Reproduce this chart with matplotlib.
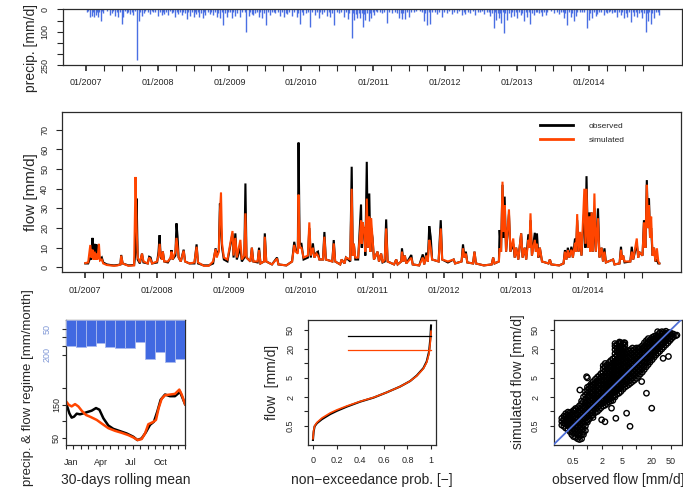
import numpy as np
import matplotlib
matplotlib.use("Agg")
import matplotlib.pyplot as plt
from matplotlib.ticker import FixedLocator, NullLocator

plt.rcParams['font.family'] = ['Liberation Sans', 'DejaVu Sans']

# ---------------- data ----------------
# daily precipitation events (decimal year, mm/d)
precip_t = [2007.013, 2007.06, 2007.083, 2007.115, 2007.143, 2007.176, 2007.213, 2007.246, 2007.338, 2007.36,
            2007.41, 2007.455, 2007.50, 2007.524, 2007.57, 2007.617, 2007.663, 2007.71, 2007.747, 2007.78,
            2007.81, 2007.895, 2007.94,
            2008.01, 2008.058, 2008.09, 2008.15, 2008.197, 2008.244, 2008.29, 2008.337, 2008.406, 2008.453,
            2008.50, 2008.536, 2008.582, 2008.63, 2008.66, 2008.73, 2008.777, 2008.824, 2008.87, 2008.917,
            2008.963,
            2009.033, 2009.08, 2009.15, 2009.233, 2009.265, 2009.31, 2009.33, 2009.358, 2009.405, 2009.45,
            2009.51, 2009.567, 2009.637, 2009.706, 2009.753, 2009.80, 2009.87, 2009.938, 2009.985,
            2010.03, 2010.124, 2010.194, 2010.24, 2010.286, 2010.356, 2010.403, 2010.458, 2010.519, 2010.589,
            2010.644, 2010.705, 2010.737, 2010.774, 2010.821, 2010.858, 2010.89, 2010.937, 2010.97,
            2011.016, 2011.053, 2011.123, 2011.192, 2011.262, 2011.355, 2011.40, 2011.447, 2011.494, 2011.564,
            2011.703, 2011.75, 2011.795, 2011.888, 2011.958,
            2012.028, 2012.097, 2012.167, 2012.237, 2012.283, 2012.353, 2012.422, 2012.492, 2012.538, 2012.631,
            2012.677, 2012.715, 2012.748, 2012.78, 2012.817, 2012.863, 2012.91, 2012.956,
            2013.003, 2013.05, 2013.096, 2013.142, 2013.188, 2013.235, 2013.305, 2013.35, 2013.397, 2013.513,
            2013.583, 2013.653, 2013.69, 2013.745, 2013.792, 2013.815, 2013.968,
            2014.00, 2014.047, 2014.094, 2014.117, 2014.21, 2014.256, 2014.326, 2014.396, 2014.442, 2014.489,
            2014.535, 2014.591, 2014.628, 2014.675, 2014.744, 2014.79, 2014.823, 2014.86, 2014.907, 2014.977]
precip_v = [10, 33, 30, 36, 25, 33, 50, 18, 25, 18,
            30, 36, 65, 33, 15, 21, 25, 226, 50, 30,
            18, 21, 10,
            30, 25, 21, 25, 15, 33, 21, 25, 45, 30,
            33, 21, 36, 40, 25, 21, 25, 33, 40, 70,
            33,
            40, 30, 33, 100, 30, 21, 25, 15, 33, 40,
            70, 25, 18, 30, 33, 21, 30, 36, 65,
            25, 77, 25, 40, 21, 30, 33, 70, 18, 33,
            45, 129, 48, 40, 40, 77, 48, 50, 40,
            25, 10, 18, 62, 15, 40, 45, 45, 33, 10,
            50, 70, 65, 21, 36,
            18, 21, 15, 25, 21, 15, 25, 10, 21, 30,
            85, 48, 40, 62, 104, 48, 33, 30,
            40, 25, 50, 33, 65, 25, 18, 30, 25, 15,
            21, 40, 70, 33, 50, 30, 85,
            48, 40, 30, 21, 25, 18, 15, 33, 25, 40,
            36, 55, 30, 33, 40, 100, 50, 65, 40, 25]
# smaller rain days between the larger events (decimal year, mm/d)
precip_small_t = [2007.03, 2007.095, 2007.16, 2007.19, 2007.23, 2007.29, 2007.38, 2007.43, 2007.48, 2007.545,
                  2007.595, 2007.64, 2007.69, 2007.76, 2007.83, 2007.86, 2007.92, 2007.97,
                  2008.035, 2008.075, 2008.12, 2008.175, 2008.22, 2008.27, 2008.315, 2008.36, 2008.38, 2008.43,
                  2008.475, 2008.52, 2008.56, 2008.605, 2008.645, 2008.695, 2008.75, 2008.80, 2008.845, 2008.89,
                  2008.94, 2008.985,
                  2009.01, 2009.055, 2009.11, 2009.18, 2009.21, 2009.29, 2009.38, 2009.43, 2009.48, 2009.535,
                  2009.59, 2009.62, 2009.67, 2009.73, 2009.78, 2009.835, 2009.90, 2009.96,
                  2010.01, 2010.06, 2010.09, 2010.15, 2010.22, 2010.265, 2010.31, 2010.38, 2010.43, 2010.49,
                  2010.55, 2010.615, 2010.67, 2010.72, 2010.755, 2010.80, 2010.84, 2010.875, 2010.915, 2010.955,
                  2010.99,
                  2011.035, 2011.09, 2011.15, 2011.22, 2011.30, 2011.33, 2011.38, 2011.42, 2011.47, 2011.53,
                  2011.60, 2011.65, 2011.68, 2011.725, 2011.775, 2011.82, 2011.86, 2011.92, 2011.98,
                  2012.06, 2012.13, 2012.20, 2012.26, 2012.32, 2012.39, 2012.455, 2012.515, 2012.58, 2012.61,
                  2012.655, 2012.695, 2012.73, 2012.765, 2012.80, 2012.84, 2012.885, 2012.935, 2012.98,
                  2013.025, 2013.075, 2013.12, 2013.165, 2013.21, 2013.26, 2013.28, 2013.33, 2013.375, 2013.42,
                  2013.47, 2013.55, 2013.61, 2013.635, 2013.67, 2013.72, 2013.77, 2013.84, 2013.87, 2013.90,
                  2013.935,
                  2014.02, 2014.07, 2014.14, 2014.17, 2014.235, 2014.28, 2014.30, 2014.35, 2014.37, 2014.42,
                  2014.465, 2014.51, 2014.56, 2014.61, 2014.65, 2014.70, 2014.72, 2014.765, 2014.805, 2014.84,
                  2014.88, 2014.935, 2014.955]
precip_small_v = [8, 12, 10, 14, 8, 6, 9, 12, 10, 8,
                  12, 10, 8, 12, 8, 14, 6, 12,
                  14, 10, 12, 8, 12, 10, 14, 10, 16, 12,
                  10, 14, 12, 16, 10, 12, 14, 12, 18, 14,
                  16, 12,
                  14, 12, 16, 12, 14, 10, 12, 14, 16, 12,
                  10, 12, 14, 12, 16, 12, 14, 18,
                  14, 16, 12, 14, 12, 14, 10, 12, 16, 12,
                  10, 14, 16, 18, 20, 18, 16, 20, 18, 16,
                  12,
                  8, 10, 12, 14, 12, 16, 18, 16, 12, 10,
                  6, 8, 12, 16, 14, 12, 10, 14, 10,
                  8, 10, 8, 12, 10, 8, 12, 8, 10, 14,
                  16, 14, 18, 16, 14, 18, 16, 12, 14,
                  12, 16, 14, 12, 16, 12, 10, 14, 12, 10,
                  8, 10, 12, 14, 16, 14, 18, 14, 10, 12,
                  14,
                  16, 14, 12, 10, 12, 10, 8, 12, 10, 14,
                  12, 16, 14, 12, 14, 16, 12, 18, 16, 14,
                  16, 12, 10]
assert len(precip_t) == len(precip_v) and len(precip_small_t) == len(precip_small_v)

# flow series vertices (decimal year, observed, simulated) in mm/d
flow_t = [2007.00, 2007.04, 2007.07, 2007.085, 2007.10, 2007.115, 2007.13, 2007.145, 2007.155, 2007.17,
          2007.19, 2007.205, 2007.23, 2007.25, 2007.30, 2007.35, 2007.40, 2007.45, 2007.49, 2007.50,
          2007.52, 2007.60, 2007.68, 2007.70, 2007.715, 2007.73, 2007.76, 2007.79, 2007.81, 2007.87,
          2007.89, 2007.91, 2007.93,
          2008.00, 2008.02, 2008.035, 2008.05, 2008.07, 2008.08, 2008.10, 2008.15, 2008.19, 2008.20,
          2008.215, 2008.255, 2008.27, 2008.285, 2008.30, 2008.33, 2008.37, 2008.39, 2008.45, 2008.52,
          2008.55, 2008.57, 2008.65, 2008.72, 2008.78, 2008.815, 2008.83, 2008.86, 2008.875, 2008.89,
          2008.905, 2008.93, 2008.98,
          2009.05, 2009.065, 2009.09, 2009.11, 2009.16, 2009.18, 2009.215, 2009.23, 2009.245, 2009.30,
          2009.32, 2009.34, 2009.40, 2009.42, 2009.44, 2009.49, 2009.50, 2009.52, 2009.60, 2009.67,
          2009.69, 2009.80, 2009.88, 2009.91, 2009.93, 2009.96, 2009.97, 2009.985,
          2010.01, 2010.04, 2010.10, 2010.12, 2010.14, 2010.17, 2010.19, 2010.22, 2010.24, 2010.26,
          2010.31, 2010.33, 2010.35, 2010.44, 2010.46, 2010.48, 2010.55, 2010.57, 2010.61, 2010.63,
          2010.69, 2010.71, 2010.725, 2010.74, 2010.76, 2010.80, 2010.84, 2010.85, 2010.86, 2010.88,
          2010.90, 2010.92, 2010.935, 2010.955, 2010.97, 2010.98,
          2011.00, 2011.02, 2011.07, 2011.09, 2011.12, 2011.14, 2011.17, 2011.19, 2011.21, 2011.30,
          2011.33, 2011.35, 2011.40, 2011.41, 2011.43, 2011.45, 2011.47, 2011.54, 2011.56, 2011.65,
          2011.70, 2011.72, 2011.75, 2011.77, 2011.79, 2011.81, 2011.83, 2011.92, 2011.95, 2011.97,
          2012.05, 2012.13, 2012.15, 2012.24, 2012.26, 2012.28, 2012.30, 2012.32, 2012.40, 2012.42,
          2012.44, 2012.55, 2012.66, 2012.68, 2012.70, 2012.76, 2012.77, 2012.79, 2012.81, 2012.825,
          2012.84, 2012.86, 2012.90, 2012.92, 2012.96, 2012.98,
          2013.00, 2013.03, 2013.07, 2013.09, 2013.12, 2013.14, 2013.17, 2013.185, 2013.20, 2013.22,
          2013.26, 2013.275, 2013.29, 2013.31, 2013.33, 2013.36, 2013.45, 2013.47, 2013.49, 2013.60,
          2013.66, 2013.68, 2013.70, 2013.72, 2013.74, 2013.77, 2013.79, 2013.82, 2013.835, 2013.85,
          2013.87, 2013.89, 2013.91, 2013.95, 2013.965, 2013.98,
          2014.00, 2014.02, 2014.035, 2014.05, 2014.07, 2014.09, 2014.11, 2014.14, 2014.16, 2014.19,
          2014.21, 2014.23, 2014.25, 2014.35, 2014.37, 2014.44, 2014.46, 2014.475, 2014.49, 2014.51,
          2014.59, 2014.61, 2014.63, 2014.68, 2014.70, 2014.71, 2014.76, 2014.78, 2014.80, 2014.82,
          2014.835, 2014.85, 2014.865, 2014.88, 2014.90, 2014.92, 2014.94, 2014.96, 2014.98, 2014.995]
flow_obs = [2.0, 2.0, 5, 4, 15, 5, 12, 5, 11.7, 5,
            6, 4, 5, 2.5, 1.5, 1.2, 1.0, 1.2, 1.5, 6.3,
            2, 1.0, 1.2, 8, 35, 4, 2, 7, 2.5, 2,
            5.4, 5, 2,
            2.5, 8, 16.4, 5, 4, 8, 3, 2.5, 5, 8.8,
            4, 6, 22.4, 15.6, 5, 3, 9, 3, 2, 2,
            11.7, 2, 1.0, 1.0, 2, 9.7, 6, 8.8, 32.5, 20,
            10, 4, 3,
            17.3, 5, 17.3, 4, 10, 3, 5, 42.7, 5, 3,
            10, 3, 2.5, 10, 2, 3, 17.3, 3, 1.5, 5,
            1.5, 1.0, 3, 13, 9, 8, 63.5, 12,
            12, 4, 5, 20, 5, 12.2, 5, 7.5, 8, 4,
            4, 18, 4, 3, 13.9, 3, 1.5, 4, 2, 5,
            3, 51.2, 6, 12, 4, 4, 32, 10, 20, 20,
            6, 53.7, 10, 37.6, 8, 20,
            15, 4, 8, 3, 7, 2.5, 3, 24.4, 3, 1.5,
            4, 1.5, 3, 9.7, 3, 6, 2, 6.3, 1.5, 1.0,
            6.6, 1.5, 7.5, 3, 21, 15.6, 4, 3, 24, 4,
            2.5, 4, 2, 3, 11.7, 5, 8, 2.5, 2, 8,
            2, 1.0, 1.5, 5, 2, 3, 19, 8, 42, 15,
            36, 8, 27, 8, 12, 5,
            10, 4, 17.3, 5, 10, 4, 16.8, 10, 24, 6,
            17.6, 8, 17.3, 5, 10, 3, 2, 4, 1.5, 1.0,
            2, 8.8, 4, 10, 5, 10.5, 5, 14.7, 8, 24,
            8, 18, 6, 30, 10, 46.4,
            10, 28, 8, 28, 8, 30, 8, 30, 5, 10,
            3, 9.7, 2.5, 4, 1.5, 2, 10.5, 4, 6, 2.5,
            3, 10.5, 4, 12, 5, 8, 6, 24, 10, 44.4,
            20, 35, 15, 20, 6, 10, 3, 4, 2, 2]
flow_sim = [2.2, 2.5, 11.4, 5, 9, 4, 8, 4, 7, 4,
            12, 3.5, 4, 2, 1.2, 1.0, 0.8, 1.0, 1.5, 6,
            2, 0.8, 1.0, 46, 20, 5, 2.5, 7, 3, 2,
            5, 4, 2,
            3, 6, 12, 6, 4, 8, 3, 3, 5, 8,
            4, 8, 15, 10, 5, 3, 8.5, 3, 2, 2.5,
            10.5, 2.5, 0.8, 0.8, 3, 9.3, 5, 8, 28, 38,
            12, 5, 4,
            18.5, 6, 15, 5, 14, 4, 6, 27.5, 5, 3,
            10, 3, 3, 8.8, 2, 3, 15.6, 3, 1.5, 4.5,
            1.5, 1.0, 3, 11.4, 8, 7, 37, 10,
            10, 5, 6, 22.9, 6, 10, 5, 7, 6, 4,
            4, 15.6, 4, 3, 12.2, 3, 1.5, 4, 2, 5,
            4, 40, 6, 12, 5, 5, 24, 12, 23, 20,
            8, 35, 10, 26, 8, 25,
            15, 4, 8, 3, 7, 2.5, 4, 19.8, 3, 1.5,
            4, 1.5, 3, 8, 3, 6, 2, 4.9, 1.5, 1.0,
            5, 1.5, 6, 3, 14, 10, 4, 3, 19.8, 4,
            3, 4, 2, 3, 9.7, 5, 7, 2.5, 2, 8,
            2, 1.0, 1.5, 5, 2, 3, 9.7, 8, 43.6, 18,
            31.7, 8, 29.5, 8, 14.7, 5,
            10, 4, 17.3, 5, 10, 4, 14, 10, 27.5, 6,
            14, 8, 12, 5, 10, 3, 2, 4, 1.5, 1.0,
            2, 8, 4, 8.8, 5, 9, 5, 12.5, 8, 27.1,
            8, 18, 6, 40, 12, 40,
            10, 26, 8, 28, 8, 37.6, 8, 25, 5, 10,
            3, 8, 2.5, 4, 1.5, 2, 9, 4, 6, 3,
            3, 8, 4, 14.7, 5, 8, 6, 22.9, 10, 42,
            20, 31.7, 15, 25.8, 6, 10, 3, 9.7, 3, 2]
assert len(flow_t) == len(flow_obs) == len(flow_sim)

# regime: monthly precipitation (mm/month) and 30-day rolling mean flow (mm/month)
months = ['Jan', 'Feb', 'Mar', 'Apr', 'May', 'Jun', 'Jul', 'Aug', 'Sep', 'Oct', 'Nov', 'Dec']
regime_precip = [150, 156, 148, 131, 154, 163, 160, 129, 227, 187, 240, 227]
regime_obs_m = [0.60, 0.87, 1.10, 1.34, 1.61, 1.94, 2.28, 2.68, 3.11, 3.55, 3.89, 4.29, 4.79, 5.29, 5.96,
                6.63, 7.30, 7.71, 8.14, 8.55, 8.98, 9.38, 9.72, 10.05, 10.49, 10.99, 11.49, 12.00, 12.33, 12.50]
regime_obs_v = [150, 124, 111, 114, 123, 121, 124, 128, 132, 140, 135, 109, 87, 77, 70,
                63, 53, 43, 48, 66, 89, 99, 130, 165, 181, 176, 176, 189, 165, 152]
regime_sim_m = [0.60, 0.80, 1.10, 1.44, 1.77, 2.11, 2.54, 3.01, 3.62, 4.22, 4.79, 5.46, 6.13, 6.80, 7.30,
                7.74, 8.14, 8.48, 8.81, 9.25, 9.58, 9.85, 10.15, 10.49, 10.99, 11.49, 11.93, 12.17, 12.50]
regime_sim_v = [158, 150, 145, 152, 145, 132, 119, 113, 104, 91, 79, 71, 65, 58, 51,
                43, 46, 63, 91, 97, 104, 140, 168, 179, 181, 183, 196, 181, 152]

# flow duration curve
fdc_prob = [0.0, 0.006, 0.014, 0.034, 0.076, 0.146, 0.203, 0.287, 0.40, 0.513, 0.625, 0.738,
            0.823, 0.879, 0.935, 0.963, 0.983, 0.994, 1.0]
fdc_obs = [0.255, 0.38, 0.49, 0.57, 0.69, 0.88, 1.03, 1.26, 1.6, 1.94, 2.5, 3.3,
           4.3, 5.6, 8, 11, 17.6, 33, 62]
fdc_sim = [0.27, 0.40, 0.50, 0.59, 0.73, 0.93, 1.08, 1.30, 1.62, 1.96, 2.5, 3.3,
           4.3, 5.5, 7.8, 10.5, 16, 28, 47]
fdc_hline_prob = [0.3, 1.0]
fdc_hline_obs = 38
fdc_hline_sim = 19

# scatter: observed vs simulated flow, grouped by observed level
scatter_obs_levels = [0.30, 0.36, 0.44, 0.52, 0.63, 0.76, 0.91, 1.1, 1.3, 1.6, 1.9, 2.3, 2.75, 3.3, 4.0,
                      4.8, 5.8, 6.9, 8.3, 10, 12, 14.5, 17.4, 21, 25, 30, 36, 44, 52, 63]
scatter_sim_by_level = [
    [0.52, 0.62, 0.72],
    [0.45, 0.54, 0.65, 0.78, 0.9],
    [0.38, 0.46, 0.55, 0.66, 0.8, 0.95],
    [0.30, 0.36, 0.43, 0.52, 0.63, 0.76, 0.9, 1.05],
    [0.27, 0.33, 0.4, 0.48, 0.58, 0.7, 0.84, 1.0, 1.2],
    [0.27, 0.33, 0.4, 0.48, 0.58, 0.7, 0.84, 1.0, 1.2, 1.45, 1.65],
    [0.4, 0.5, 0.6, 0.72, 0.87, 1.05, 1.25, 1.5, 1.8, 2.2, 2.6],
    [0.7, 0.84, 1.0, 1.2, 1.45, 1.75, 2.1, 2.5, 3.0, 3.4],
    [0.85, 1.0, 1.2, 1.45, 1.75, 2.1, 2.5, 3.0, 3.6, 4.2],
    [1.0, 1.2, 1.45, 1.75, 2.1, 2.5, 3.0, 3.6, 4.3, 5.2],
    [1.2, 1.45, 1.75, 2.1, 2.5, 3.0, 3.6, 4.3, 5.2, 6.2],
    [1.35, 1.6, 1.95, 2.3, 2.8, 3.4, 4.1, 4.9, 5.9, 7.0, 8.5, 10],
    [1.6, 1.95, 2.3, 2.8, 3.4, 4.1, 4.9, 5.9, 7.0, 8.5, 10.5],
    [1.7, 2.0, 2.4, 2.9, 3.5, 4.2, 5.0, 6.0, 7.2, 8.7, 10.5, 12.5],
    [2.3, 2.8, 3.4, 4.1, 4.9, 5.9, 7.1, 8.5, 10.2, 12.3, 14.8, 18, 21, 25],
    [2.6, 3.1, 3.7, 4.5, 5.4, 6.5, 7.8, 9.4, 11.3, 13.5, 16, 19, 23, 27],
    [3.2, 3.8, 4.6, 5.5, 6.6, 8.0, 9.6, 11.5, 13.8, 16.5, 20, 24, 27],
    [3.6, 4.3, 5.2, 6.2, 7.5, 9.0, 10.8, 13, 15.5, 18.5],
    [4.2, 5.0, 6.0, 7.2, 8.7, 10.4, 12.5, 15, 18, 21],
    [4.9, 5.9, 7.1, 8.5, 10.2, 12.3, 14.8, 17.8, 21],
    [6.0, 7.2, 8.7, 10.4, 12.5, 15, 18, 21.5],
    [7.5, 9.0, 10.8, 13, 15.6, 18.7, 22.5, 27],
    [9.5, 11.4, 13.7, 16.4, 19.7, 23.6, 28, 33],
    [12, 14.4, 17.3, 20.8, 25, 30, 35],
    [15, 18, 21.6, 26, 31, 37],
    [18, 21.6, 26, 31, 37, 44],
    [22, 26.4, 31.7, 38, 45],
    [27, 32, 38, 44],
    [33, 38, 42],
    [38],
]
scatter_obs_levels_b = [0.33, 0.40, 0.48, 0.57, 0.69, 0.83, 1.0, 1.2, 1.45, 1.75, 2.1, 2.5, 3.0, 3.65, 4.4,
                        5.3, 6.3, 7.6, 9.1, 11, 13.2, 15.9, 19, 23, 27.5, 33, 40, 48, 57]
scatter_sim_by_level_b = [
    [0.49, 0.57, 0.68, 0.8],
    [0.42, 0.5, 0.6, 0.72, 0.85, 0.97],
    [0.33, 0.4, 0.48, 0.57, 0.69, 0.83, 0.98],
    [0.29, 0.35, 0.42, 0.5, 0.6, 0.72, 0.87, 1.05, 1.15],
    [0.26, 0.3, 0.36, 0.44, 0.53, 0.64, 0.77, 0.92, 1.1, 1.32],
    [0.33, 0.37, 0.44, 0.53, 0.64, 0.77, 0.92, 1.1, 1.32, 1.6, 2.0],
    [0.6, 0.66, 0.8, 0.95, 1.15, 1.38, 1.65, 2.0, 2.4, 2.8, 3.2],
    [0.8, 0.92, 1.1, 1.32, 1.6, 1.9, 2.3, 2.75, 3.3, 3.8],
    [0.95, 1.1, 1.32, 1.6, 1.9, 2.3, 2.75, 3.3, 3.9, 4.7],
    [1.1, 1.32, 1.6, 1.9, 2.3, 2.75, 3.3, 3.9, 4.7, 5.6],
    [1.3, 1.5, 1.8, 2.15, 2.6, 3.1, 3.7, 4.5, 5.4, 6.5, 7.8, 9],
    [1.45, 1.75, 2.1, 2.55, 3.1, 3.7, 4.5, 5.4, 6.5, 7.7, 9.3],
    [1.65, 1.85, 2.2, 2.65, 3.2, 3.85, 4.6, 5.5, 6.6, 7.9, 9.5, 11.5],
    [2.0, 2.2, 2.6, 3.1, 3.8, 4.5, 5.4, 6.5, 7.8, 9.4, 11.3, 13.5, 16, 19.5, 23, 26],
    [2.4, 2.95, 3.5, 4.3, 5.1, 6.2, 7.4, 9.0, 10.8, 12.9, 15.5, 18.5, 22, 26],
    [2.9, 3.5, 4.2, 5.0, 6.0, 7.2, 8.7, 10.5, 12.6, 15, 18, 22, 25.5],
    [3.4, 4.0, 4.8, 5.7, 6.9, 8.3, 10, 12, 14.5, 17.5],
    [3.9, 4.6, 5.5, 6.6, 8.0, 9.6, 11.5, 13.8, 16.5, 19.5],
    [4.5, 5.4, 6.5, 7.8, 9.4, 11.3, 13.6, 16.3, 19.5],
    [5.4, 6.5, 7.8, 9.4, 11.3, 13.6, 16.3, 19.5, 21],
    [6.6, 7.9, 9.5, 11.4, 13.7, 16.4, 19.7, 23.5],
    [8.5, 10.2, 12.3, 14.8, 17.7, 21.2, 25.5, 30],
    [10.7, 12.8, 15.4, 18.5, 22.2, 26.6, 31],
    [13.5, 16.2, 19.4, 23.3, 28, 33, 37],
    [16.5, 19.8, 23.8, 28.5, 34, 40],
    [20, 24, 28.8, 34.5, 41, 46],
    [24.5, 29.5, 35, 42, 47],
    [30, 35, 40, 44],
    [36, 41],
]
outlier_obs = [0.96, 1.0, 1.95, 2.28, 3.1, 3.8, 6.3, 7.4, 12.8, 16, 20.5, 35, 45, 67, 27, 0.7, 4.5, 5.5, 1.3]
outlier_sim = [5.3, 5.0, 0.67, 0.61, 1.17, 0.72, 0.92, 0.49, 4.2, 2.4, 1.17, 12.8, 14, 39, 46, 2.8, 28, 27, 0.75]

years = list(range(2007, 2015))

# ---------------- figure ----------------
W, H = 683, 488
fig = plt.figure(figsize=(W / 100, H / 100), dpi=100)

TXT = '#262626'
BLUE = '#4A6FE3'
ORANGE = '#FF4500'


def ax_px(l, t, r, b):
    return fig.add_axes([l / W, 1 - b / H, (r - l) / W, (b - t) / H])


def frame(ax):
    for s in ax.spines.values():
        s.set_linewidth(0.9)
        s.set_color('#2b2b2b')


def rot_y(ax):
    for lab in ax.get_yticklabels():
        lab.set_rotation(90)
        lab.set_va('center')


def year_axis(ax, pad):
    ax.set_xlim(2006.68, 2015.30)
    ax.xaxis.set_major_locator(FixedLocator(years))
    ax.set_xticklabels(['01/%d' % y for y in years])
    ax.xaxis.set_minor_locator(FixedLocator([y + q for y in years for q in (0.25, 0.5, 0.75)]))
    ax.tick_params(axis='x', which='major', length=4, width=1.2, pad=pad, labelsize=6.5, colors=TXT)
    ax.tick_params(axis='x', which='minor', length=4, width=0.8, colors=TXT)


def ylabel_px(x, y, s, size):
    fig.text(x / W, 1 - y / H, s, rotation=90, ha='center', va='center', fontsize=size, color=TXT)


def xlabel_px(x, y, s, size):
    fig.text(x / W, 1 - y / H, s, ha='center', va='center', fontsize=size, color=TXT)


# --- precipitation panel ---
ax_p = ax_px(62.7, 9.3, 682.3, 65.3)
frame(ax_p)
ax_p.vlines(precip_small_t, 0, precip_small_v, color=BLUE, lw=1.0)
ax_p.vlines(precip_t, 0, precip_v, color=BLUE, lw=1.0)
ax_p.set_ylim(250, 0)
year_axis(ax_p, 5.5)
ax_p.yaxis.set_major_locator(FixedLocator([0, 50, 100, 150, 200, 250]))
ax_p.set_yticklabels(['0', '', '100', '', '', '250'])
ax_p.tick_params(axis='y', length=4, width=0.8, pad=5.4, labelsize=6.5, colors=TXT)
rot_y(ax_p)
ylabel_px(31, 48, 'precip. [mm/d]', 10)

# --- flow panel ---
ax_q = ax_px(62.3, 112.3, 681.3, 271.7)
frame(ax_q)
l_obs, = ax_q.plot(flow_t, flow_obs, color='black', lw=1.5, solid_joinstyle='miter')
l_sim, = ax_q.plot(flow_t, flow_sim, color=ORANGE, lw=1.5, solid_joinstyle='miter')
ax_q.set_ylim(-2.2, 78.9)
year_axis(ax_q, 6.1)
ax_q.yaxis.set_major_locator(FixedLocator([0, 10, 20, 30, 40, 50, 60, 70]))
ax_q.set_yticklabels(['0', '10', '20', '30', '40', '50', '60', '70'])
ax_q.tick_params(axis='y', length=4, width=0.8, pad=5.4, labelsize=6.5, colors=TXT)
rot_y(ax_q)
leg = ax_q.legend([l_obs, l_sim], ['observed', 'simulated'], frameon=False, fontsize=6,
                  loc='upper left', bbox_to_anchor=(0.7717, 0.94), borderpad=0, borderaxespad=0,
                  handlelength=4.0, handletextpad=1.8, labelspacing=0.75)
for h in leg.get_lines():
    h.set_linewidth(2.0)
for t in leg.get_texts():
    t.set_color(TXT)
ylabel_px(31, 192, 'flow [mm/d]', 11)

# --- regime panel ---
ax_r = ax_px(65.7, 320, 185, 445)
frame(ax_r)
ax_r.set_xlim(0.5, 12.5)
ax_r.set_ylim(28, 407)
ax_r.plot(regime_obs_m, regime_obs_v, color='black', lw=1.8)
ax_r.plot(regime_sim_m, regime_sim_v, color=ORANGE, lw=1.8)
ax_r.xaxis.set_major_locator(FixedLocator([1, 4, 7, 10]))
ax_r.set_xticklabels([months[0], months[3], months[6], months[9]])
ax_r.xaxis.set_minor_locator(FixedLocator(list(np.linspace(0.5, 12.5, 17))))
ax_r.tick_params(axis='x', which='major', length=0, pad=9.4, labelsize=6.5, colors=TXT)
ax_r.tick_params(axis='x', which='minor', length=3, width=0.8, colors=TXT)
ax_r.yaxis.set_major_locator(FixedLocator([50, 100, 150, 200]))
ax_r.set_yticklabels(['50', '', '150', ''])
ax_r.tick_params(axis='y', length=3, width=0.8, pad=0.5, labelsize=6.5, colors=TXT)
rot_y(ax_r)

ax_r2 = ax_r.twinx()
for s in ax_r2.spines.values():
    s.set_visible(False)
ax_r2.bar(range(1, 13), regime_precip, width=1.0, color='#4169E1', edgecolor='#a9b9ee', linewidth=0.6)
ax_r2.set_ylim(721, 0)
ax_r2.yaxis.tick_left()
ax_r2.yaxis.set_major_locator(FixedLocator([50, 100, 150, 200]))
ax_r2.set_yticklabels(['50', '', '', '200'])
ax_r2.tick_params(axis='y', length=3, width=0.8, pad=7.2, labelsize=6.5, colors='#2b2b2b',
                  labelcolor='#7f97d6')
rot_y(ax_r2)
ylabel_px(28, 388, 'precip. & flow regime [mm/month]', 9.5)
xlabel_px(125.4, 480, '30-days rolling mean', 10)

# --- flow duration curve ---
ax_f = ax_px(308, 320, 436, 445)
frame(ax_f)
ax_f.set_yscale('log')
ax_f.plot(fdc_prob, fdc_obs, color='black', lw=1.5)
ax_f.plot(fdc_prob, fdc_sim, color=ORANGE, lw=1.2)
ax_f.plot(fdc_hline_prob, [fdc_hline_obs] * 2, color='black', lw=0.9)
ax_f.plot(fdc_hline_prob, [fdc_hline_sim] * 2, color=ORANGE, lw=0.9)
ax_f.set_xlim(-0.042, 1.042)
ax_f.set_ylim(0.2, 80.6)
ax_f.xaxis.set_major_locator(FixedLocator([0, 0.2, 0.4, 0.6, 0.8, 1.0]))
ax_f.set_xticklabels(['0', '0.2', '0.4', '0.6', '0.8', '1'])
ax_f.yaxis.set_major_locator(FixedLocator([0.5, 1, 2, 5, 10, 20, 50]))
ax_f.yaxis.set_minor_locator(NullLocator())
ax_f.set_yticklabels(['0.5', '', '2', '5', '', '20', '50'])
ax_f.tick_params(axis='x', length=3, width=0.8, pad=4.8, labelsize=6.5, colors=TXT)
ax_f.tick_params(axis='y', length=3, width=0.8, pad=6.3, labelsize=6.5, colors=TXT)
rot_y(ax_f)
ylabel_px(271.7, 382, 'flow  [mm/d]', 10)
xlabel_px(372, 480, 'non\u2212exceedance prob. [\u2212]', 10)

# --- scatter ---
ax_s = ax_px(554, 320, 682, 445)
frame(ax_s)
ax_s.set_xscale('log')
ax_s.set_yscale('log')
sc_x, sc_y = [], []
for levels, sims_list in ((scatter_obs_levels, scatter_sim_by_level),
                          (scatter_obs_levels_b, scatter_sim_by_level_b)):
    for o, sims in zip(levels, sims_list):
        for s_ in sims:
            sc_x.append(o)
            sc_y.append(s_)
sc_x += outlier_obs
sc_y += outlier_sim
ax_s.scatter(sc_x, sc_y, s=15, facecolors='none', edgecolors='black', linewidths=1.0, zorder=2)
ax_s.plot([0.1, 100], [0.1, 100], color='#4F6FD6', lw=1.3, zorder=3)
ax_s.set_xlim(0.208, 85)
ax_s.set_ylim(0.2, 80.6)
for axis in (ax_s.xaxis, ax_s.yaxis):
    axis.set_major_locator(FixedLocator([0.5, 1, 2, 5, 10, 20, 50]))
    axis.set_minor_locator(NullLocator())
ax_s.set_xticklabels(['0.5', '', '2', '5', '', '20', '50'])
ax_s.set_yticklabels(['0.5', '', '2', '5', '', '20', '50'])
ax_s.tick_params(axis='x', length=3, width=0.8, pad=5.5, labelsize=6.5, colors=TXT)
ax_s.tick_params(axis='y', length=3, width=0.8, pad=7.0, labelsize=6.5, colors=TXT)
rot_y(ax_s)
ylabel_px(518, 382, 'simulated flow [mm/d]', 10)
xlabel_px(618, 480, 'observed flow [mm/d]', 10)

fig.savefig('out.png', dpi=100)
